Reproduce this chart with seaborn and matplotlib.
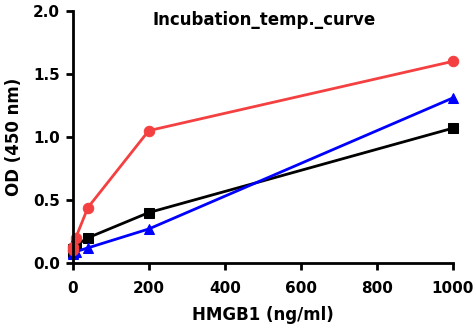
import matplotlib
matplotlib.use("Agg")
import matplotlib.pyplot as plt
import seaborn as sns
import pandas as pd

conc = [0.32, 1.6, 8, 40, 200, 1000]
black_vals = [0.09, 0.11, 0.14, 0.20, 0.40, 1.07]
blue_vals = [0.07, 0.08, 0.09, 0.12, 0.27, 1.31]
red_vals = [0.10, 0.13, 0.20, 0.44, 1.05, 1.60]

series = [
    ("black", black_vals, "#000000", "s"),
    ("blue", blue_vals, "#0000ff", "^"),
    ("red", red_vals, "#f44040", "o"),
]

title = "Incubation_temp._curve"
xlabel = "HMGB1 (ng/ml)"
ylabel = "OD (450 nm)"
xticks = [0, 200, 400, 600, 800, 1000]
yticks = [0.0, 0.5, 1.0, 1.5, 2.0]

sns.set_theme(style="ticks")
plt.rcParams["font.family"] = ["DejaVu Sans"]
plt.rcParams["font.weight"] = "bold"
plt.rcParams["text.color"] = "black"
plt.rcParams["axes.labelcolor"] = "black"

fig = plt.figure(figsize=(4.73, 3.30), dpi=100)
ax = fig.add_axes([0.1537, 0.203, 0.804, 0.764])

for name, vals, color, marker in series:
    df = pd.DataFrame({"x": conc, "y": vals})
    sns.lineplot(data=df, x="x", y="y", ax=ax, color=color, marker=marker,
                 markersize=7.5, markeredgecolor=color, linewidth=2,
                 clip_on=False, legend=False)

ax.set_xlim(0, 1000)
ax.set_ylim(0, 2.0)
ax.set_xticks(xticks)
ax.set_yticks(yticks)
ax.set_xticklabels([str(t) for t in xticks], fontsize=11, fontweight="bold")
ax.set_yticklabels([f"{t:.1f}" for t in yticks], fontsize=11, fontweight="bold")
ax.set_xlabel(xlabel, fontsize=12, fontweight="bold", labelpad=7, color="black")
ax.set_ylabel(ylabel, fontsize=12, fontweight="bold", labelpad=7, color="black")
for s in ["top", "right"]:
    ax.spines[s].set_visible(False)
for s in ["left", "bottom"]:
    ax.spines[s].set_linewidth(2)
    ax.spines[s].set_color("black")
ax.tick_params(axis="both", width=2, length=5, color="black", labelcolor="black")
ax.tick_params(axis="x", pad=8)
ax.tick_params(axis="y", pad=4)
ax.text(0.503, 0.964, title, transform=ax.transAxes, ha="center", va="center",
        fontsize=12, fontweight="bold", color="black")

fig.savefig("out.png", dpi=100)
